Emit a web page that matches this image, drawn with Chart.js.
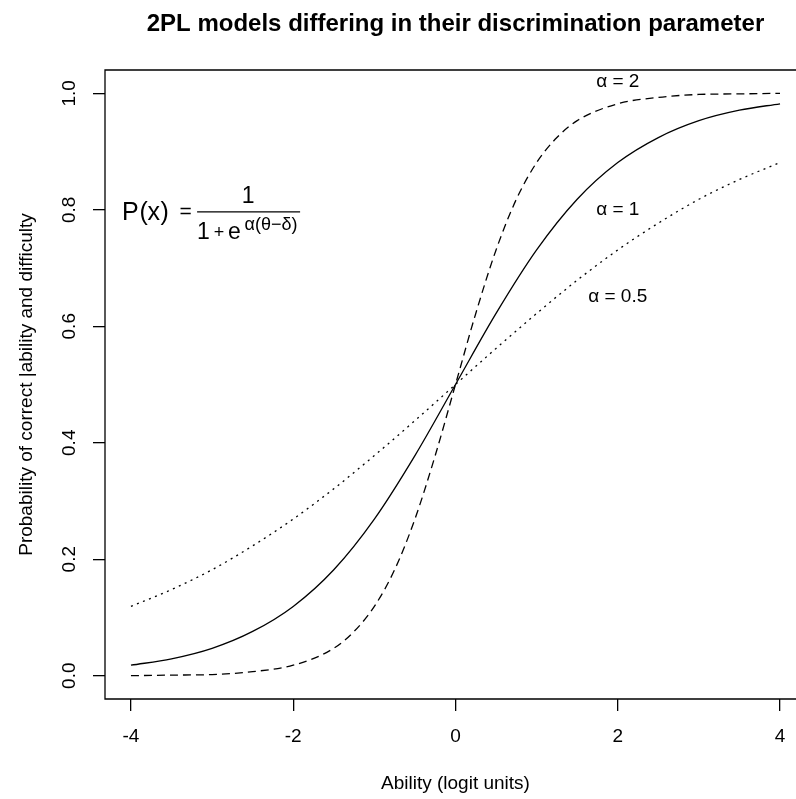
<!DOCTYPE html>
<html><head><meta charset="utf-8">
<script src="https://cdn.jsdelivr.net/npm/chart.js@4.4.0/dist/chart.umd.min.js"></script>
<style>html,body{margin:0;padding:0;background:#fff;overflow:hidden}canvas{display:block}</style>
</head><body>
<canvas id="c" width="796" height="799"></canvas>
<script>
// ---- data ----
const ability = [-4, -3.5, -3, -2.5, -2, -1.5, -1, -0.5, 0, 0.5, 1, 1.5, 2, 2.5, 3, 3.5, 4];
const probAlpha1 = [0.018, 0.029, 0.047, 0.076, 0.119, 0.182, 0.269, 0.378, 0.500, 0.622, 0.731, 0.818, 0.881, 0.924, 0.953, 0.971, 0.982];
const probAlpha05 = [0.119, 0.148, 0.182, 0.223, 0.269, 0.321, 0.378, 0.438, 0.500, 0.562, 0.622, 0.679, 0.731, 0.777, 0.818, 0.852, 0.881];
const abilityAlpha2 = [-4, -3.5, -3, -2.5, -2, -1.5, -1.25, -1, -0.75, -0.5, -0.25, 0, 0.25, 0.5, 0.75, 1, 1.25, 1.5, 2, 2.5, 3, 3.5, 4];
const probAlpha2 = [0.000, 0.001, 0.002, 0.007, 0.018, 0.047, 0.076, 0.119, 0.182, 0.269, 0.378, 0.500, 0.622, 0.731, 0.818, 0.881, 0.924, 0.953, 0.982, 0.993, 0.998, 0.999, 1.000];

const xTicks = [-4, -2, 0, 2, 4];
const xTickLabels = ['-4', '-2', '0', '2', '4'];
const yTicks = [0, 0.2, 0.4, 0.6, 0.8, 1.0];
const yTickLabels = ['0.0', '0.2', '0.4', '0.6', '0.8', '1.0'];

const curveLabels = ['α = 2', 'α = 1', 'α = 0.5'];
const curveLabelX = [2, 2, 2];
const curveLabelY = [1.02, 0.8, 0.65];

const titleText = '2PL models differing in their discrimination parameter';
const xTitle = 'Ability (logit units)';
const yTitle = 'Probability of correct |ability and difficulty';
const formulaAt = [-3, 0.8];

const FONT = '"Liberation Sans", Arial, Helvetica, sans-serif';

const decor = {
  id: 'decor',
  afterDraw(chart) {
    const {ctx, chartArea: a, scales: {x, y}} = chart;
    ctx.save();
    ctx.strokeStyle = '#000';
    ctx.fillStyle = '#000';
    ctx.lineWidth = 1.3;
    // plot box (right side lies outside the canvas)
    ctx.beginPath();
    ctx.moveTo(a.right + 20, a.top);
    ctx.lineTo(a.left, a.top);
    ctx.lineTo(a.left, a.bottom);
    ctx.lineTo(a.right + 20, a.bottom);
    ctx.stroke();

    const cx = (x.getPixelForValue(-4.32) + x.getPixelForValue(4.32)) / 2;
    ctx.textAlign = 'center';
    ctx.textBaseline = 'alphabetic';
    ctx.font = 'bold 24px ' + FONT;
    ctx.fillText(titleText, cx, 31);
    ctx.font = '19px ' + FONT;
    ctx.fillText(xTitle, cx, 789);
    ctx.save();
    ctx.translate(32, (a.top + a.bottom) / 2);
    ctx.rotate(-Math.PI / 2);
    ctx.fillText(yTitle, 0, 0);
    ctx.restore();

    // curve labels
    ctx.textBaseline = 'middle';
    curveLabels.forEach((t, i) => {
      ctx.fillText(t, x.getPixelForValue(curveLabelX[i]), y.getPixelForValue(curveLabelY[i]));
    });

    // formula  P(x) = 1 / (1 + e^{α(θ−δ)})
    const fx = x.getPixelForValue(formulaAt[0]);
    const fy = y.getPixelForValue(formulaAt[1]);
    ctx.textBaseline = 'alphabetic';
    ctx.textAlign = 'left';
    ctx.font = '25px ' + FONT;
    ctx.fillText('P', fx - 90, fy + 10);
    ctx.fillText('(', fx - 72.5, fy + 10);
    ctx.fillText('x', fx - 64.5, fy + 10);
    ctx.fillText(')', fx - 51.5, fy + 10);
    ctx.font = '21px ' + FONT;
    ctx.textAlign = 'center';
    ctx.fillText('=', fx - 26.5, fy + 8);
    ctx.font = '23px ' + FONT;
    ctx.fillText('1', fx + 36, fy - 7);
    ctx.beginPath();
    ctx.moveTo(fx - 15, fy + 2);
    ctx.lineTo(fx + 88, fy + 2);
    ctx.stroke();
    ctx.textAlign = 'left';
    ctx.fillText('1', fx - 15, fy + 29);
    ctx.font = '18px ' + FONT;
    ctx.textAlign = 'center';
    ctx.fillText('+', fx + 7, fy + 28);
    ctx.font = '23px ' + FONT;
    ctx.textAlign = 'left';
    ctx.fillText('e', fx + 16, fy + 29);
    ctx.font = '18px ' + FONT;
    ctx.fillText('α(θ−δ)', fx + 32.5, fy + 20);
    ctx.restore();
  }
};

const mk = (xs, ys) => xs.map((v, i) => ({x: v, y: ys[i]}));
const base = {borderColor: '#000', borderWidth: 1.3, pointRadius: 0, fill: false, cubicInterpolationMode: 'monotone', borderCapStyle: 'butt'};

new Chart(document.getElementById('c'), {
  type: 'line',
  data: {
    datasets: [
      Object.assign({label: curveLabels[0], data: mk(abilityAlpha2, probAlpha2), borderDash: [8, 5]}, base),
      Object.assign({label: curveLabels[1], data: mk(ability, probAlpha1)}, base),
      Object.assign({label: curveLabels[2], data: mk(ability, probAlpha05), borderDash: [2, 4.5]}, base)
    ]
  },
  options: {
    responsive: false,
    animation: false,
    devicePixelRatio: 1,
    layout: {padding: {top: 70, left: 0, right: 0, bottom: 0}},
    plugins: {legend: {display: false}, tooltip: {enabled: false}, title: {display: false}},
    scales: {
      x: {
        type: 'linear', position: 'bottom', min: -4.32, max: 4.197,
        afterBuildTicks: s => { s.ticks = xTicks.map(v => ({value: v})); },
        afterFit: s => { s.height = 100; s.paddingLeft = 0; s.paddingRight = 0; },
        ticks: {
          autoSkip: false, minRotation: 0, maxRotation: 0, padding: 14, color: '#000',
          font: {family: FONT, size: 19},
          callback: v => xTickLabels[xTicks.indexOf(v)]
        },
        grid: {drawOnChartArea: false, drawTicks: true, tickLength: 12, color: '#000', lineWidth: 1.3},
        border: {display: false}
      },
      y: {
        type: 'linear', position: 'left', min: -0.04, max: 1.04,
        afterBuildTicks: s => { s.ticks = yTicks.map(v => ({value: v})); },
        afterFit: s => { s.width = 105; s.paddingTop = 0; s.paddingBottom = 0; },
        ticks: {
          autoSkip: false, minRotation: 90, maxRotation: 90, crossAlign: 'center', padding: 10, color: '#000',
          font: {family: FONT, size: 19},
          callback: v => yTickLabels[yTicks.findIndex(t => Math.abs(t - v) < 1e-9)]
        },
        grid: {drawOnChartArea: false, drawTicks: true, tickLength: 12, color: '#000', lineWidth: 1.3},
        border: {display: false}
      }
    }
  },
  plugins: [decor]
});
</script>
</body></html>
